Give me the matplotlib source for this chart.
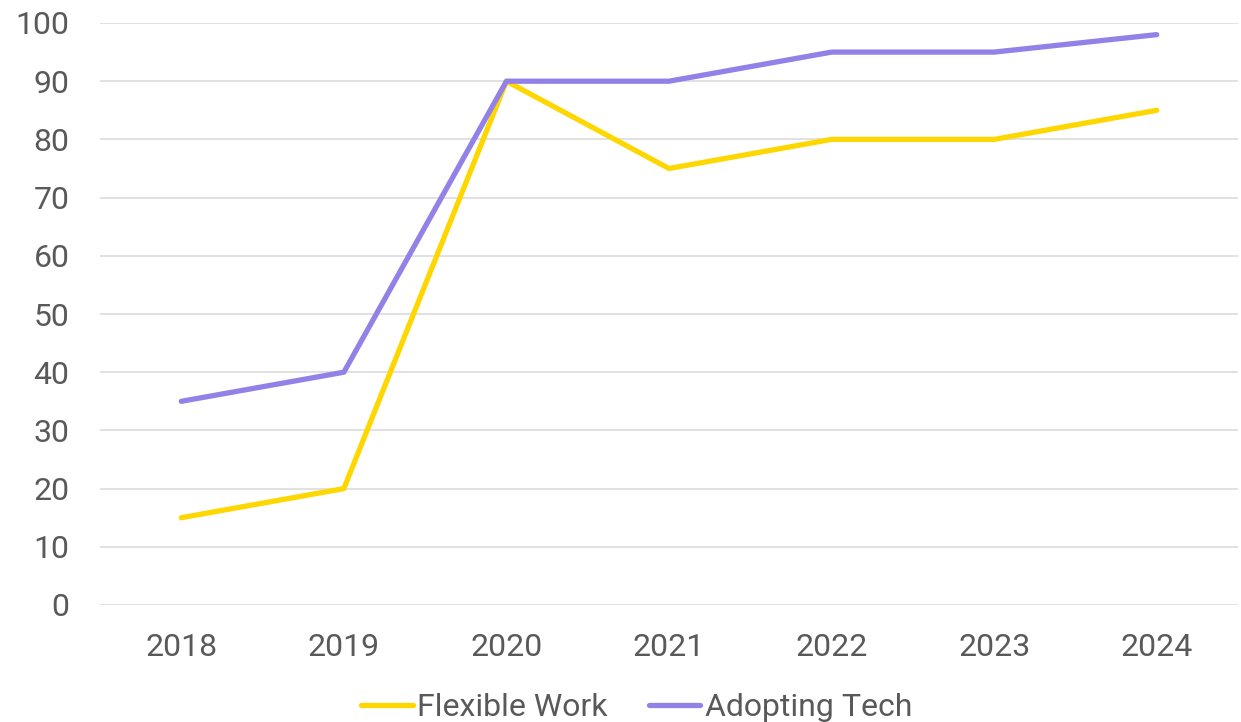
import matplotlib.pyplot as plt

years = ["2018", "2019", "2020", "2021", "2022", "2023", "2024"]
flexible_work = [15, 20, 90, 75, 80, 80, 85]
adopting_tech = [35, 40, 90, 90, 95, 95, 98]
y_ticks = [0, 10, 20, 30, 40, 50, 60, 70, 80, 90, 100]

plt.rcParams['font.family'] = ['Roboto', 'DejaVu Sans']
TEXT = "#595959"

fig = plt.figure(figsize=(12.41, 7.22), dpi=100)
ax = fig.add_axes([100 / 1241, 1 - 605 / 722, 1138 / 1241, 582 / 722])

x = list(range(len(years)))
ax.plot(x, flexible_work, color="#FFD700", lw=3.8, solid_capstyle="round",
        solid_joinstyle="round", label="Flexible Work", zorder=3)
ax.plot(x, adopting_tech, color="#9381E8", lw=3.8, solid_capstyle="round",
        solid_joinstyle="round", label="Adopting Tech", zorder=3)

ax.set_xlim(-0.5, len(years) - 0.5)
ax.set_ylim(0, 100)
ax.set_yticks(y_ticks)
ax.set_xticks(x)
ax.set_xticklabels(years)
ax.grid(axis="y", color="#d9d9d9", lw=1.1)
ax.set_axisbelow(True)
for s in ax.spines.values():
    s.set_visible(False)
ax.tick_params(axis="both", length=0, labelsize=23, colors=TEXT)
ax.tick_params(axis="y", pad=22)
ax.tick_params(axis="x", pad=20)

# legend sits a bit right of the figure centre, under the plot area
fig.legend(loc="center", bbox_to_anchor=(637 / 1241, 1 - 708 / 722), ncol=2,
           frameon=False, fontsize=23, labelcolor=TEXT, handlelength=1.6,
           handletextpad=0.15, columnspacing=1.3)

fig.savefig("out.png", dpi=100)
